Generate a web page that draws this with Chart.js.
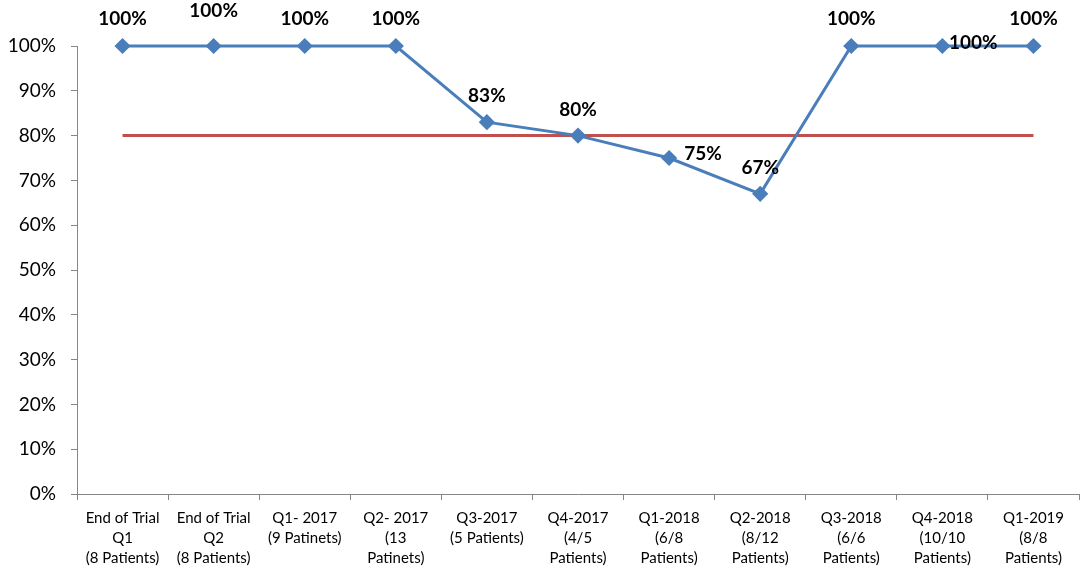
<!DOCTYPE html>
<html>
<head>
<meta charset="utf-8">
<script src="https://cdn.jsdelivr.net/npm/chart.js@4"></script>
<style>
  html, body { margin: 0; padding: 0; background: #fff; overflow: hidden; }
  #wrap { width: 1081px; height: 573px; overflow: hidden; }
</style>
</head>
<body>
<div id="wrap"><canvas id="lineChart" width="1088" height="573"></canvas></div>
<script>
// Categories (x axis, multi-line labels)
var quarterLabels = [
    ['End of Trial', 'Q1', '(8 Patients)'],
    ['End of Trial', 'Q2', '(8 Patients)'],
    ['Q1- 2017', '(9 Patinets)'],
    ['Q2- 2017', '(13', 'Patinets)'],
    ['Q3-2017', '(5 Patients)'],
    ['Q4-2017', '(4/5', 'Patients)'],
    ['Q1-2018', '(6/8', 'Patients)'],
    ['Q2-2018', '(8/12', 'Patients)'],
    ['Q3-2018', '(6/6', 'Patients)'],
    ['Q4-2018', '(10/10', 'Patients)'],
    ['Q1-2019', '(8/8', 'Patients)']
];

// Series values (percent)
var complianceValues = [100, 100, 100, 100, 83, 80, 75, 67, 100, 100, 100];
var targetValues = [80, 80, 80, 80, 80, 80, 80, 80, 80, 80, 80];

// Y axis ticks
var yTickValues = [0, 10, 20, 30, 40, 50, 60, 70, 80, 90, 100];

// Where each value label sits relative to its point (dx, dy in px)
var labelOffsets = [
    [0, -27], [0, -35], [0, -27], [0, -27], [0, -26], [0, -26],
    [34, -4], [0, -26], [0, -27], [31, -3], [0, -27]
];

// Simple inline value-label plugin (no datalabels plugin available offline)
var valueLabels = {
    id: 'valueLabels',
    afterDatasetsDraw: function (chart) {
        var ctx = chart.ctx;
        var meta = chart.getDatasetMeta(0);
        ctx.save();
        ctx.font = 'bold 19px Lato, "Open Sans", sans-serif';
        ctx.fillStyle = '#000';
        ctx.textAlign = 'center';
        ctx.textBaseline = 'middle';
        meta.data.forEach(function (pt, i) {
            var off = labelOffsets[i];
            ctx.fillText(complianceValues[i] + '%', pt.x + off[0], pt.y + off[1]);
        });
        ctx.restore();
    }
};

var ctx = document.getElementById('lineChart').getContext('2d');
new Chart(ctx, {
    type: 'line',
    data: {
        labels: quarterLabels,
        datasets: [{
            label: 'Compliance',
            data: complianceValues,
            borderColor: '#4A7EBB',
            backgroundColor: '#4A7EBB',
            borderWidth: 3,
            pointStyle: 'rectRot',
            pointRadius: 6,
            pointHoverRadius: 6,
            tension: 0,
            clip: false,
            order: 1
        }, {
            label: 'Target',
            data: targetValues,
            borderColor: '#C0504D',
            borderWidth: 3,
            pointRadius: 0,
            pointHoverRadius: 0,
            tension: 0,
            clip: false,
            order: 2
        }]
    },
    options: {
        responsive: false,
        animation: false,
        layout: {
            padding: { top: 46, right: 0, left: 8, bottom: 0 }
        },
        plugins: {
            legend: { display: false },
            tooltip: { enabled: false }
        },
        scales: {
            x: {
                offset: true,
                afterFit: function (axis) {
                    axis.height = 79;
                },
                grid: {
                    offset: true,
                    drawOnChartArea: false,
                    drawTicks: true,
                    tickLength: 6,
                    color: '#868686'
                },
                border: { color: '#868686', width: 1 },
                ticks: {
                    color: '#000',
                    font: { family: 'Lato, "Open Sans", sans-serif', size: 15, lineHeight: '20px' },
                    maxRotation: 0,
                    autoSkip: false,
                    padding: 8
                }
            },
            y: {
                min: 0,
                max: 100,
                afterBuildTicks: function (axis) {
                    axis.ticks = yTickValues.map(function (v) { return { value: v }; });
                },
                afterFit: function (axis) {
                    axis.width = 69;
                },
                grid: {
                    drawOnChartArea: false,
                    drawTicks: true,
                    tickLength: 6,
                    color: '#868686'
                },
                border: { color: '#868686', width: 1 },
                ticks: {
                    color: '#000',
                    font: { family: 'Lato, "Open Sans", sans-serif', size: 19 },
                    padding: 15,
                    callback: function (value) {
                        return value + '%';
                    }
                }
            }
        }
    },
    plugins: [valueLabels]
});
</script>
</body>
</html>
